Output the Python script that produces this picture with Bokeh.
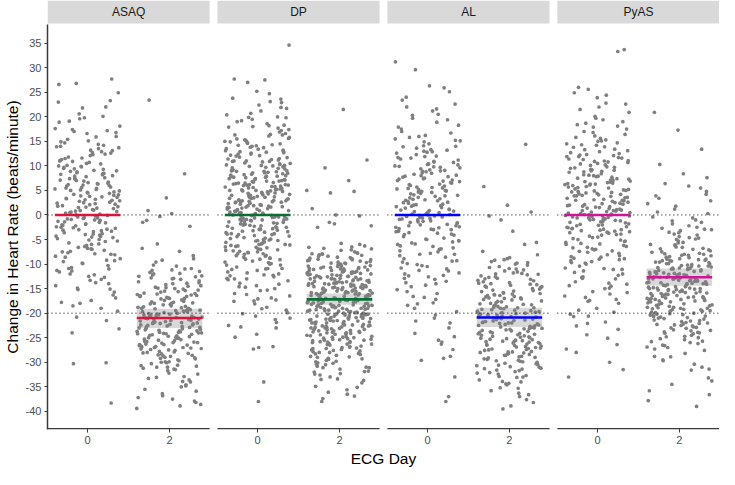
from bokeh.plotting import figure
from bokeh.layouts import column
from bokeh.models import Range1d, FixedTicker, CustomJSTickFormatter
from bokeh.core.properties import value
from bokeh.embed import file_html
from bokeh.resources import INLINE

# ---------------- data ----------------
drugs = ["ASAQ", "DP", "AL", "PyAS"]
days = ["0", "2"]
line_colors = ["#DC143C", "#0B6E34", "#0000FF", "#D1139A"]

asaq_d0 = [
    3.2, -7.4, 12.6, -1.8, 8.3, -13.1, 26.8, 0.7, -4.5, 5.9,
    17.2, -9.8, 2.4, -0.6, 10.9, -16.3, 6.6, -3.1, 14.2, 1.5,
    -23.2, 9.1, -5.7, 4.4, 19.8, -11.6, 0.2, 7.5, -2.7, 12.1,
    -8.6, 22.0, 3.9, -14.4, 5.2, -0.9, 27.7, -6.2, 11.3, -3.8,
    8.8, -19.6, 1.1, 15.4, -10.3, 6.1, -1.3, 13.5, -30.3, 4.7,
    -5.1, 9.7, -12.7, 2.8, 18.1, -7.9, 0.5, 23.3, -4.0, 7.1,
    10.4, -2.2, 16.0, -17.4, 3.4, -9.2, 5.6, 13.9, -0.3, -24.0,
    8.0, -6.8, 1.9, 20.1, -15.2, 4.1, -3.4, 11.8, -11.0, 6.9,
    26.6, -1.5, 9.4, -8.1, 2.1, 14.7, -5.4, 0.9, 17.6, -13.8,
    5.0, -38.3, 7.8, -2.5, 12.9, -20.8, 3.6, -7.0, 10.1, -0.1,
    21.8, -4.8, 6.3, -18.5, 1.3, 15.1, -9.5, 8.5, -3.0, 4.9,
    -12.2, 19.1, 2.6, -6.4, 11.0, -1.1, 7.3, -16.9, 13.2, 0.4,
    -30.1, 9.9, -4.3, 5.4, -10.7, 3.0, 16.6, -2.0, 8.2, -14.9,
    1.7, 12.3, -7.7, 6.7, -0.7, 23.0, -5.9, 4.2, -15.7, 10.7,
    -3.6, 7.6, 19.6, -8.9, 2.3, -12.0, 5.7, -1.9, 14.0, -19.0,
    0.0, 9.0, -6.0, 3.3, -2.9, 11.6, -11.3, 6.4, 17.4, -4.6,
    4.5, -2.1, 9.3, -6.6, 13.7, 1.0, -10.9, 6.0, -0.5, 18.9,
    -4.1, 7.9, 2.2, -13.3, 11.5, -1.6, 5.1, -8.4, 15.9, 0.6,
    -3.3, 10.5, -17.8, 3.7, 8.6, -5.3, 12.7, -0.8, 6.5, -9.9,
    1.8, 14.4, -2.6, 4.0, -12.5, 9.5, -7.2, 20.6, 2.9, -1.0,
    7.4, -15.1, 3.1, 11.1, -4.4, 0.8, 16.8, -6.9, 5.5, -21.5,
    9.8, -2.4, 1.4, -11.4, 13.1, 4.6, -7.5, 8.4, -0.4, 24.9,
    -3.9, 6.2, -14.0, 2.5, 10.0, -5.0, 17.0, -9.3, 3.8, -1.4,
    12.4, -18.0, 5.3, -0.2, 8.9, -8.0, 1.6, 14.9, -3.2, 7.0,
]
asaq_d2 = [
    -21.4, -14.8, -27.3, -18.9, -33.1, -23.6, -11.2, -25.8, -19.7, -36.4,
    -16.2, -29.5, -22.1, -8.3, -24.7, -31.2, -17.6, -20.3, -13.4, -27.9,
    23.4, -22.9, -15.5, -26.4, -38.9, -19.1, -12.6, -28.8, -21.0, -34.6,
    -17.1, -24.0, -10.4, -30.3, -20.6, -16.8, -26.9, -23.2, -5.9, -32.4,
    -14.0, -22.5, -28.2, -18.3, -37.2, -25.1, -12.0, -20.9, -29.9, -15.9,
    8.4, -23.9, -19.4, -27.6, -11.7, -34.0, -21.7, -16.5, -25.4, -9.6,
    -30.8, -18.0, -22.8, -13.9, -26.1, -39.4, -20.0, -24.4, -17.9, -31.7,
    -1.5, -15.1, -28.5, -21.2, -12.9, -25.0, -33.6, -19.9, -23.0, -7.4,
    -27.0, -16.0, -22.3, -35.5, -18.6, -29.2, -14.4, -24.9, -20.4, -10.9,
    3.5, -26.7, -17.3, -31.0, -22.0, -13.0, -28.0, -19.2, -36.8, -24.2,
    -15.6, -21.9, -8.9, -27.5, -18.7, -32.9, -23.5, -11.5, -25.6, -20.7,
    -2.3, -29.0, -16.6, -23.8, -14.7, -38.2, -21.5, -26.3, -19.5, -30.0,
    -12.4, -24.6, -17.7, -28.6, -22.6, -6.8, -33.9, -20.2, -15.3, -26.0,
    0.9, -19.0, -24.1, -13.6, -29.7, -21.3, -37.9, -17.0, -25.3, -11.0,
    -0.3, -23.3, -31.5, -18.1, -27.1, -14.2, -22.4, -35.0, -20.5, -16.4,
    0.3, -1.1, -26.5, -9.2, -23.7, -30.6, -12.2,
    -22.2, -16.9, -28.1, -19.6, -25.5, -13.8, -31.4, -20.1, -24.8, -17.4,
    -26.6, -11.9, -21.8, -29.3, -18.2, -23.4, -34.8, -15.7, -27.2, -20.9,
    -12.8, -24.3, -30.1, -19.0, -22.7, -16.1, -26.0, -37.5, -21.1, -14.5,
    -28.7, -18.8, -23.9, -10.2, -25.9, -32.2, -20.4, -17.0, -27.8, -22.9,
    -15.0, -24.5, -19.3, -29.9, -21.6, -13.1, -26.8, -35.9, -18.5, -23.1,
    -16.6, -28.3, -20.8, -25.1, -11.3, -22.4, -31.0, -19.7, -27.0, -14.9,
    -24.0, -17.8, -33.3, -21.3, -26.4, -12.5, -23.6, -18.0, -29.1, -20.2,
    -25.7, -15.4, -22.1, -38.6, -19.5, -27.4, -16.3, -24.2, -30.7, -21.9,
]
dp_d0 = [
    4.2, -3.5, 11.8, -9.1, 7.3, 0.6, 16.4, -14.7, 2.9, 21.2,
    -6.4, 8.8, -1.2, 13.5, -18.8, 5.1, 1.7, -11.3, 9.6, -2.8,
    27.0, 3.3, -7.9, 12.4, -0.4, 6.7, -22.5, 18.2, -4.6, 10.1,
    0.9, -13.0, 5.8, -2.1, 15.0, -8.4, 2.2, 23.6, -5.3, 8.1,
    -16.9, 11.0, -0.8, 4.6, -10.6, 7.9, 19.5, -3.9, 1.3, -20.1,
    13.2, -6.9, 9.2, -1.6, 5.5, 34.6, -12.2, 3.0, 16.9, -4.2,
    0.1, -8.8, 10.6, 6.2, -15.4, 2.5, -2.4, 20.7, -7.2, 12.8,
    -0.2, 7.0, -24.3, 4.0, 14.3, -11.8, 8.5, -5.7, 1.0, 17.7,
    -3.2, 11.4, -9.7, 6.0, -1.0, 22.4, -17.6, 3.7, 9.9, -6.1,
    27.5, -13.9, 5.3, 0.3, 14.9, -4.9, 7.6, -19.4, 2.0, 12.0,
    -2.6, 8.3, -10.2, 18.6, -0.6, 4.8, -7.5, 10.9, -26.8, 1.9,
    15.6, -5.0, 6.5, -14.1, 3.5, -1.4, 24.7, -8.0, 9.4, -3.0,
    0.8, -21.3, 13.8, 5.7, -11.0, 2.7, 17.2, -6.6, 7.8, -0.1,
    -16.2, 11.7, 4.4, -4.4, 20.0, -9.4, 1.5, 8.7, -2.0, 13.0,
    -38.0, 6.3, -12.6, 3.9, 15.8, -5.5, 0.4, 10.3, -18.1, 5.0,
    23.1, -1.9, 8.0, -7.0, 2.6, -23.0, 12.6, -3.6, 6.9, 19.2,
    -10.9, 1.2, 9.1, -0.5, 14.6, -13.4, 4.1, -6.3, 11.2, -27.3,
    2.3, 16.1, -8.6, 7.2, -2.9, 27.7, -15.0, 3.6, 10.5, -4.7,
    -0.9, 5.9, -20.6, 12.2, -9.9, 1.6, 21.7, -5.9, 8.9, -1.7,
    14.0, -12.9, 4.7, -3.3, 9.8, -17.1, 0.0, 6.6, -7.7, 17.4,
    -34.0, 3.1, 11.5, -2.3, 7.4, -10.0, 15.3, -6.0, 2.1, -24.9,
    5.2, -1.1, 13.1, -8.2, 0.5, 22.9, -14.4, 9.0, -4.0, 6.1,
    -19.9, 10.8, 1.1, -5.2, 18.0, -11.6, 4.3, -0.7, 12.7, -27.0,
    7.7, -3.8, 2.8, -16.5, 8.6, -7.4, 14.5, 0.2, -12.4, 4.9,
    -9.0, 19.8, -2.2, 6.4, -21.9, 3.4, 10.2, -6.7, 1.4, 16.3,
    3.8, -2.7, 10.0, -7.6, 6.1, 0.2, 14.2, -12.0, 1.9, 17.9,
    -5.1, 8.2, -0.3, 12.1, -16.0, 4.5, 2.4, -9.6, 7.7, -1.8,
    21.9, 5.0, -6.2, 11.3, -0.9, 9.0, -19.1, 15.5, -3.1, 6.8,
    1.2, -10.9, 4.9, -1.5, 13.4, -7.3, 3.0, 19.9, -4.3, 8.9,
    -14.6, 10.4, -0.6, 3.4, -8.8, 6.5, 16.6, -2.9, 0.7, -17.3,
    12.4, -5.6, 7.9, -1.2, 5.4, 25.2, -11.1, 2.7, 14.8, -3.4,
    0.4, -7.9, 9.5, 5.6, -13.2, 1.8, -2.0, 18.3, -6.0, 11.0,
    -0.4, 6.2, -21.0, 3.6, 12.9, -10.2, 7.4, -4.8, 1.6, 15.2,
    -2.5, 10.1, -8.3, 5.2, -0.1, 20.4, -15.3, 2.9, 8.4, -5.2,
    23.8, -12.3, 4.4, 0.9, 13.7, -4.0, 6.9, -17.5, 1.5, 10.9,
    -1.4, 7.1, -9.0, 16.3, -0.2, 4.0, -6.5, 9.7, -22.8, 2.6,
    14.1, -3.8, 5.8, -13.0, 3.2, -1.0, 19.0, -7.1, 8.6, -2.3,
]
dp_d2 = [
    -16.8, -9.4, -24.3, -12.1, -19.7, -30.5, -14.6, -7.2, -21.8, -27.1,
    -11.3, -18.4, -35.6, -15.9, -22.7, -8.6, -26.0, -13.4, -20.2, -31.8,
    21.5, -17.5, -10.7, -23.6, -14.0, -28.9, -19.1, -6.3, -25.4, -12.8,
    -16.1, -33.0, -21.1, -9.9, -18.8, -26.7, -13.9, -23.0, -11.7, -29.6,
    11.2, -15.2, -20.6, -7.8, -24.9, -17.9, -12.5, -37.4, -22.3, -10.1,
    -27.9, -14.3, -19.4, -31.1, -16.6, -8.1, -23.9, -13.1, -21.4, -25.8,
    9.6, -18.1, -11.0, -28.3, -15.6, -20.9, -6.9, -24.0, -17.2, -34.2,
    -12.3, -22.0, -9.1, -26.4, -19.0, -14.8, -30.1, -16.3, -21.6, -10.4,
    7.0, -25.1, -18.6, -13.6, -23.3, -7.5, -28.0, -15.4, -20.4, -32.6,
    -11.9, -17.0, -24.6, -14.1, -21.2, -9.7, -27.4, -16.0, -19.8, -12.9,
    5.0, -36.5, -22.6, -15.0, -10.5, -25.6, -18.3, -29.2, -13.3, -20.0,
    -8.4, -23.7, -16.9, -11.4, -26.9, -19.3, -14.5, -31.4, -21.9, -17.7,
    4.5, -12.0, -24.2, -10.8, -20.7, -28.6, -15.8, -6.5, -22.9, -18.0,
    -13.8, -30.8, -17.4, -25.3, -9.3, -21.0, -14.9, -33.7, -19.6, -11.1,
    4.8, -26.2, -16.4, -22.4, -12.6, -27.7, -18.9, -8.8, -23.5, -15.3,
    -20.3, -10.0, -29.9, -17.1, -13.0, -24.7, -19.2, -38.0, -14.2, -21.5,
    1.3, -11.6, -25.9, -16.2, -22.1, -9.0, -28.2, -18.5, -12.2, -20.8,
    -15.7, -31.9, -23.1, -13.5, -19.9, -26.5, -10.3, -17.3, -24.4, -14.7,
    0.0, -21.3, -7.1, -27.2, -16.7, -22.8, -12.4, -35.1, -18.7, -11.8,
    -25.2, -15.1, -20.5, -9.6, -23.8, -17.8, -29.4, -13.7, -21.7, -16.5,
    -0.2, -1.8, -10.9, -26.8, -19.5, -14.4, -32.3, -22.2, -12.7, -18.2,
    -2.2, -24.8, -16.0, -8.2, -20.1, -27.5, -15.5, -23.4, -11.2, -19.0,
    -2.5, -13.2, -30.2, -17.6, -21.2, -10.6, -25.5, -18.4, -14.6, -36.9,
    -1.5, -22.5, -9.8, -16.4, -28.4, -20.3, -13.0, -24.1, -17.0, -31.0,
    -5.8, -19.3, -11.5, -23.2, -15.9, -26.3, -7.9, -21.0, -33.4, -14.0,
    -15.3, -8.4, -22.6, -11.5, -18.3, -28.1, -13.9, -6.6, -20.4, -25.5,
    -10.6, -17.6, -32.4, -14.9, -21.5, -9.1, -24.2, -12.8, -19.0, -29.8,
    -16.4, -11.9, -22.0, -13.4, -27.0, -18.6, -7.7, -23.9, -12.0, -15.8,
    -31.1, -20.0, -10.0, -17.9, -25.0, -14.1, -21.8, -11.3, -28.0, -6.0,
    -14.7, -19.4, -8.7, -23.0, -16.6, -12.3, -34.9, -20.9, -9.8, -26.3,
    -13.6, -18.0, -29.3, -15.5, -7.9, -22.4, -12.6, -20.2, -24.9, -16.2,
    -10.9, -27.6, -14.3, -19.7, -6.8, -23.3, -17.2, -32.0, -11.7, -21.2,
    -9.5, -15.9, -25.8, -13.0, -18.8, -28.8, -14.5, -22.7, -16.8, -10.4,
    -30.4, -19.9, -12.2, -24.5, -17.4, -8.0, -21.0, -15.0, -27.2, -13.2,
    -36.1, -18.5, -11.0, -23.6, -16.0, -20.6, -9.2, -26.0, -14.0, -19.2,
    -12.9, -22.9, -17.0, -10.7, -25.3, -15.6, -33.5, -20.3, -13.7, -18.2,
    -8.9, -24.0, -16.5, -11.6, -29.0, -21.6, -14.8, -19.6, -12.5, -17.7,
]
al_d0 = [
    3.6, -5.2, 9.8, -12.4, 1.2, 14.9, -2.8, 6.3, -19.0, 22.6,
    -0.7, 7.9, -8.6, 4.4, 31.2, -14.0, 11.6, -3.9, 0.3, 17.5,
    -25.9, 5.7, -1.6, 12.9, -9.9, 2.6, 8.9, -6.0, 20.5, -16.6,
    0.8, 10.4, -4.4, 25.9, -11.3, 6.8, -0.2, 15.8, -22.0, 3.1,
    -7.3, 9.0, 29.6, -2.2, 13.3, -13.8, 4.9, -29.6, 1.7, 18.9,
    -5.7, 7.1, -10.5, 23.4, 2.2, -1.0, 11.2, -17.9, 5.4, -37.0,
    14.1, -3.3, 0.5, 8.3, -8.0, 26.3, -12.9, 3.9, -0.5, 10.0,
    -20.4, 6.0, 16.7, -4.9, 1.0, -26.3, 12.3, -9.3, 4.6, 22.0,
    -1.9, 8.6, -15.2, 2.9, 19.7, -6.7, 0.0, 13.9, -29.2, 5.2,
    -11.8, 10.8, -3.6, 25.1, 7.5, -0.9, 3.3, -24.1, 15.2, -7.8,
    1.4, -38.0, 9.4, -2.5, 12.0, -14.6, 6.5, -5.0, 17.0, -0.4,
    -10.1, 4.0, 21.2, -18.4, 7.8, -1.3, 11.7, -25.5, 2.0, -4.1,
    14.5, -8.9, 5.9, -0.1, 9.6, -13.1, 3.5, -28.8, 16.2, -6.3,
    1.9, -21.6, 8.1, -2.9, 24.0, -11.0, 4.8, 12.6, -16.0, 0.2,
    -5.5, 10.3, -9.6, 6.9, -1.4, 18.3, -3.0, 2.4, -23.0, 13.0,
    7.3, -7.0, 0.7, -33.0, 9.2, -12.0, 5.0, -2.0, 15.5, -17.2,
    4.3, -3.0, 8.8, -10.8, 1.5, 13.6, -1.7, 5.6, -15.6, 19.4,
    -0.6, 7.0, -7.5, 3.2, 10.7, -12.6, 2.5, -4.7, 16.0, -2.4,
    -21.0, 6.2, 0.1, 11.9, -8.3, 9.7, -5.9, 14.0, -1.2, 3.0,
    -13.5, 8.0, -3.4, 21.6, 1.8, -9.4, 12.8, -0.8, 5.5, -18.1,
    10.2, -6.4, 2.8, -11.4, 7.4, 17.9, -2.6, 4.1, -24.8, 0.9,
    -4.0, 9.1, -8.0, 15.1, 3.8, -1.5, 6.6, -14.3, 11.4, -6.9,
    2.1, -19.7, 8.5, -0.3, 13.2, -10.3, 5.3, -3.7, 20.3, -27.4,
    0.6, 7.7, -12.3, 4.7, -5.3, 10.9, -2.2, 1.1, -16.8, 9.9,
]
al_d2 = [
    -21.5, -12.7, -28.4, -17.0, -33.6, -24.1, -9.2, -19.8, -30.9, -14.5,
    14.4, -22.8, -26.7, -11.0, -35.8, -18.3, -25.2, -15.6, -31.4, -20.4,
    -8.1, -27.9, -16.4, -23.7, -39.5, -13.3, -29.6, -21.0, -18.9, -34.3,
    5.8, -24.6, -10.5, -26.2, -19.4, -32.1, -14.1, -22.3, -28.0, -16.9,
    -12.0, -30.3, -20.7, -25.8, -37.6, -17.7, -23.1, -9.8, -27.3, -15.0,
    2.0, -21.9, -33.0, -18.6, -26.0, -11.8, -29.1, -24.8, -19.1, -13.9,
    -31.7, -16.2, -22.6, -8.7, -27.6, -20.0, -35.2, -14.8, -25.5, -18.0,
    0.6, -23.4, -12.4, -28.8, -21.3, -30.0, -17.3, -26.5, -10.2, -33.9,
    -19.6, -24.4, -15.3, -38.2, -22.0, -13.6, -28.1, -20.9, -31.0, -16.6,
    -0.2, -25.0, -11.4, -23.9, -29.8, -18.4, -27.0, -14.3, -21.7, -32.7,
    -1.0, -17.5, -26.9, -9.5, -22.9, -34.6, -19.2, -25.6, -12.9, -30.5,
    -3.3, -20.6, -27.2, -15.8, -24.2, -36.3, -18.8, -23.0, -10.9, -29.3,
    -6.0, -22.1, -16.0, -31.9, -25.3, -13.1, -28.6, -20.2, -34.0, -17.9,
    -5.6, -23.6, -14.7, -26.3, -19.9, -30.7, -11.6, -24.0, -21.2, -28.3,
    -7.4, -18.2, -32.4, -22.4, -15.5, -27.5, -25.9, -9.1, -20.5, -37.0,
    -16.3, -29.0, -23.3, -13.0, -26.8, -19.0, -31.2,
    -20.1, -14.0, -27.8, -18.7, -24.5, -11.9, -31.6, -22.2, -16.1, -29.4,
    -9.7, -25.7, -19.8, -35.3, -21.6, -13.4, -28.2, -17.2, -23.2, -32.9,
    -15.1, -26.6, -10.7, -22.7, -30.2, -18.1, -24.9, -12.6, -20.8, -38.9,
    -16.7, -27.4, -21.1, -14.6, -33.1, -19.3, -25.4, -8.9, -23.5, -29.9,
    -17.6, -12.1, -26.1, -20.3, -36.6, -15.9, -22.5, -28.9, -18.5, -24.3,
    -13.8, -31.3, -21.4, -16.4, -27.1, -10.0, -23.8, -19.5, -34.4, -25.1,
    -17.1, -29.7, -14.2, -22.0, -26.4, -12.2, -20.6, -32.2, -18.9, -24.7,
    -15.4, -27.9, -21.8, -11.2, -30.6, -19.7, -25.8, -16.9, -23.1, -28.6,
]
pyas_d0 = [
    2.8, -6.6, 10.7, -1.3, 5.6, -12.3, 17.9, 0.4, -3.7, 8.2,
    33.7, -9.0, 3.9, 13.4, -17.4, 6.9, -0.8, 21.5, -5.1, 1.6,
    9.5, -14.5, 4.5, -2.4, 15.1, -22.6, 7.4, -0.3, 11.9, -8.1,
    0.9, 19.0, -4.5, 6.0, -11.1, 25.6, -1.8, 3.2, -19.4, 12.5,
    -7.1, 8.7, -30.0, 2.1, 16.4, -3.1, 5.3, -13.0, 10.1, -0.1,
    22.8, -5.8, 1.0, 14.2, -9.7, 7.7, -24.4, 3.6, -2.0, 18.4,
    33.3, -15.6, 6.4, -0.5, 11.3, -6.2, 4.1, -20.7, 9.1, 0.0,
    -3.4, 13.9, -10.4, 2.4, 20.1, -1.5, 7.1, -16.8, 5.0, -8.6,
    15.8, -4.0, 0.6, -27.3, 9.8, -12.7, 3.0, 23.9, -2.7, 6.5,
    -7.6, 11.1, -0.9, 4.8, -18.0, 8.0, -33.0, 1.3, 17.0, -5.4,
    12.9, -11.7, 2.5, -1.0, 6.2, -21.8, 10.4, -3.9, 19.7, -9.3,
    0.2, 5.8, -14.1, 8.9, -2.2, 14.7, -6.9, 3.4, -25.1, 1.8,
    -31.5, 7.9, -4.8, 12.1, -0.6, 20.9, -10.9, 4.3, -8.3, 10.9,
    2.0, -16.1, 6.8, -1.6, 15.6, -13.6, 0.8, 9.3, -5.6, 24.4,
    -3.2, 11.6, -19.0, 4.7, -7.3, 1.4, 13.1, -0.2, 7.5, -23.3,
    16.8, -2.6, 5.5, -11.4, 2.9, 22.0, -8.8, 9.7, -4.3, 0.5,
    -15.0, 12.2, -1.2, 6.3, -20.2, 3.8, 18.7, -6.4, 8.4, -28.0,
    1.1, -9.5, 14.5, -3.5, 4.0, -12.0, 10.5, -0.4, 7.0, -17.6,
    5.2, -2.9, 26.0, -7.8, 3.1, 11.4, -14.9, 0.1,
    3.5, -5.9, 9.6, -1.1, 6.3, -10.8, 15.3, 0.3, -3.0, 7.8,
    -8.5, 4.6, 12.3, -15.8, 2.3, -0.6, 18.1, -4.6, 1.9, 10.8,
    -12.6, 5.1, -2.1, 13.8, -19.8, 8.1, -0.2, 11.0, -7.4, 1.2,
    16.1, -3.6, 6.7, -9.8, 22.6, -1.4, 3.0, -17.2, 9.0, -6.0,
    0.7, 14.3, -11.1, 4.4, -2.8, 7.2, -22.1, 2.6, 19.4, -5.0,
    11.7, -0.9, 5.7, -13.9, 8.8, -8.9, 1.5, 24.9, -3.3, 6.1,
    -16.5, 10.2, -1.9, 4.2, -7.0, 12.7, 0.0, -10.0, 17.5, -4.1,
    3.9, -26.4, 9.2, -2.5, 6.6, -12.9, 2.2, 15.0, -6.7, 0.9,
    -20.6, 7.3, -0.7, 11.9, -9.1, 4.9, -14.4, 1.7, 13.3, -5.3,
]
pyas_d2 = [
    -12.4, -5.6, -18.9, -9.1, -23.4, -14.7, -2.2, -16.3, -27.6, -10.8,
    20.9, -13.5, -20.1, -7.3, -15.8, -25.2, -11.4, 1.8, -17.7, -31.6,
    -8.6, -14.1, -21.7, -12.0, -4.1, -19.3, -26.9, -10.2, -16.6, -6.8,
    17.3, -13.0, -22.8, -15.2, -9.7, -18.1, 3.4, -24.0, -11.9, -35.8,
    -14.9, -7.9, -20.6, -12.8, -17.2, -1.0, -28.9, -10.6, -23.1, -16.0,
    13.4, -5.0, -19.8, -13.9, -9.0, -22.0, -15.5, 0.6, -26.2, -11.0,
    -17.9, -8.2, -14.3, -21.2, -3.6, -12.6, -30.4, -18.6, -10.0, -24.7,
    10.3, -15.0, -6.2, -20.4, -13.2, -16.9, 4.2, -22.5, -11.6, -39.0,
    -9.4, -18.3, -14.0, -2.7, -25.7, -12.2, -19.1, -7.0, -16.2, -33.2,
    8.4, -21.0, -10.4, -15.7, -13.7, -4.6, -23.8, -17.4, -8.9, -27.3,
    -12.9, -19.6, 2.9, -14.5, -20.8, -11.2, -6.5, -17.0, -24.5, -9.9,
    7.6, -15.3, -22.3, -13.3, -1.8, -18.8, -10.9, -29.5, -16.8, -5.3,
    -14.8, -20.0, -12.1, -36.6, -8.0, -17.5, -21.5, 1.2, -11.7, -26.0,
    6.4, -13.6, -19.0, -9.6, -15.9, -23.0, -3.0, -12.3, -18.0, -31.0,
    -16.4, -7.6, -22.6, -14.2, 0.3, -20.3, -10.7, -25.0, -13.1, -37.8,
    5.9, -11.8, -17.1, -4.4, -21.4, -15.1, -8.5, -19.5, -28.2, -12.7,
    5.5, -14.6, -6.0, -23.6, -16.1, 4.8, -10.3, -18.4, -2.5, -34.5,
    -13.8, -20.9, -9.3, -16.7, -12.5, -0.4, -24.2, -15.4, -7.1, -19.2,
    -11.3, -22.1, -3.9, -17.3, -13.4, -26.6, -9.2, -15.6,
    -11.6, -4.9, -17.7, -8.3, -21.9, -13.8, -1.5, -15.2, -25.8, -10.1,
    -12.7, -19.0, -6.6, -14.9, -23.9, -10.8, 2.3, -16.8, -29.7, -8.0,
    -13.3, -20.7, -11.5, -3.5, -18.5, -25.4, -9.6, -15.6, -6.1, -12.1,
    -21.6, -14.4, -9.0, -17.2, 3.9, -22.9, -11.0, -33.8, -14.1, -7.5,
    -19.6, -12.4, -16.4, -0.6, -27.0, -10.4, -22.2, -15.3, -4.7, -18.8,
    -13.0, -8.7, -21.1, -2.9, -12.0, -28.8, -17.5, -9.3, -23.5, -14.6,
    -6.9, -19.3, -12.8, -16.0, -10.5, -24.8, -15.9, -8.2, -20.2, -13.5,
    -1.2, -17.0, -11.1, -26.5, -14.0, -5.7, -20.5, -16.7, -9.9, -31.4,
    -12.2, -18.2, -7.8, -22.4, -15.0, -10.9, -24.1, -13.9, -3.2, -19.9,
]

mean_day0 = [0.0, 0.0, 0.0, 0.0]
mean_day2 = [-21.0, -17.2, -20.9, -12.7]
ci_low_day2 = [-23.0, -18.3, -22.8, -14.4]
ci_high_day2 = [-19.1, -16.0, -18.9, -10.9]
ref_lines = [0, -20]
y_ticks = [35, 30, 25, 20, 15, 10, 5, 0, -5, -10, -15, -20, -25, -30, -35, -40]

groups = [(asaq_d0, asaq_d2), (dp_d0, dp_d2), (al_d0, al_d2), (pyas_d0, pyas_d2)]

# ---------------- layout ----------------
P_LO, P_HI = 0.51, 2.49      # panel extent in local x units (days at 1 and 2)
STEP = 2.075                 # panel-to-panel offset (panel + gap)
JIT = 0.4                    # jitter half-width
Y_LO, Y_HI = -43.7, 38.8     # panel y extent
PHI = 0.6180339887
LB = 45                      # left border shared by strip row and panel row
W = 719
STRIP_H = 24
MAIN_H = 469 - STRIP_H
FONT = "Liberation Sans"

xr = Range1d(P_LO, 3 * STEP + P_HI)
sl = [i * STEP + P_LO for i in range(4)]
sr = [i * STEP + P_HI for i in range(4)]

# ---- strip row ----
s = figure(width=W, height=STRIP_H, output_backend="svg", toolbar_location=None,
           x_range=xr, y_range=Range1d(0, 1), x_axis_location=None, y_axis_location=None,
           min_border_left=LB, min_border_right=0, min_border_top=0, min_border_bottom=0)
s.outline_line_color = None
s.xgrid.visible = False
s.ygrid.visible = False
s.quad(left=sl, right=sr, bottom=[0.045] * 4, top=[1.0] * 4,
       fill_color="#D9D9D9", line_color=None)
s.text(x=[i * STEP + 1.5 for i in range(4)], y=[0.52] * 4, text=drugs,
       text_align="center", text_baseline="middle", text_color="#1A1A1A",
       text_font=value(FONT), text_font_size="12px")

# ---- panel row ----
p = figure(width=W, height=MAIN_H, output_backend="svg", toolbar_location=None,
           x_range=xr, y_range=Range1d(Y_LO, Y_HI),
           min_border_top=0, min_border_right=0, min_border_left=LB,
           background_fill_color="white", border_fill_color="white")
p.outline_line_color = None
p.xgrid.visible = False
p.ygrid.visible = False

# ribbons (confidence bands)
rl = [i * STEP + 2 - JIT for i in range(4)]
rr = [i * STEP + 2 + JIT for i in range(4)]
p.quad(left=rl, right=rr, bottom=ci_low_day2, top=ci_high_day2, fill_color="#C8C8C8",
       fill_alpha=0.7, line_color=None)

# jittered points
px, py = [], []
for i, (d0, d2) in enumerate(groups):
    for d, vals in enumerate((d0, d2)):
        for k, v in enumerate(vals):
            j = (((k + 1) * PHI + 0.37 * i + 0.21 * d) % 1.0 - 0.5) * 2 * JIT
            px.append(i * STEP + (d + 1) + j)
            py.append(v)
p.scatter(x=px, y=py, size=3.7, fill_color="#7F7F7F", line_color=None)

# dotted reference lines
hx0, hx1, hy = [], [], []
for i in range(4):
    for r in ref_lines:
        hx0.append(i * STEP + P_LO)
        hx1.append(i * STEP + P_HI)
        hy.append(r)
p.segment(x0=hx0, y0=hy, x1=hx1, y1=hy, line_color="black", line_width=1,
          line_dash="1 3")

# mean lines
mx0, mx1, my, mc = [], [], [], []
for i in range(4):
    for d, m in enumerate((mean_day0[i], mean_day2[i])):
        mx0.append(i * STEP + (d + 1) - JIT)
        mx1.append(i * STEP + (d + 1) + JIT)
        my.append(m)
        mc.append(line_colors[i])
p.segment(x0=mx0, y0=my, x1=mx1, y1=my, line_color=mc, line_width=2.6)

# bottom axis lines per panel
ay = Y_LO + 0.15
p.segment(x0=sl, y0=[ay] * 4, x1=sr, y1=[ay] * 4, line_color="#3A3A3A", line_width=1.5)

# axes
xt = []
for i in range(4):
    xt += [i * STEP + 1, i * STEP + 2]
p.xaxis.ticker = FixedTicker(ticks=xt)
p.xaxis.formatter = CustomJSTickFormatter(args=dict(labels=days),
                                          code="return labels[index % 2];")
p.xaxis.axis_line_color = None
p.xaxis.major_tick_line_color = "#3A3A3A"
p.xaxis.major_tick_in = 1
p.xaxis.major_tick_out = 3
p.xaxis.minor_tick_line_color = None
p.xaxis.major_label_text_color = "#4D4D4D"
p.xaxis.major_label_text_font = FONT
p.xaxis.major_label_text_font_size = "11px"
p.xaxis.major_label_standoff = 3
p.xaxis.axis_label = "ECG Day"
p.xaxis.axis_label_text_font = FONT
p.xaxis.axis_label_text_font_style = "normal"
p.xaxis.axis_label_text_font_size = "15.5px"
p.xaxis.axis_label_text_color = "black"
p.xaxis.axis_label_standoff = 3

p.yaxis.ticker = FixedTicker(ticks=y_ticks)
p.yaxis.formatter = CustomJSTickFormatter(code="return tick.toFixed(0);")
p.yaxis.axis_line_color = "#3A3A3A"
p.yaxis.axis_line_width = 1.5
p.yaxis.major_tick_line_color = "#3A3A3A"
p.yaxis.major_tick_in = 0
p.yaxis.major_tick_out = 3
p.yaxis.minor_tick_line_color = None
p.yaxis.major_label_text_color = "#4D4D4D"
p.yaxis.major_label_text_font = FONT
p.yaxis.major_label_text_font_size = "11px"
p.yaxis.major_label_standoff = 3
p.yaxis.axis_label = "Change in Heart Rate (beats/minute)"
p.yaxis.axis_label_text_font = FONT
p.yaxis.axis_label_text_font_style = "normal"
p.yaxis.axis_label_text_font_size = "15.5px"
p.yaxis.axis_label_text_color = "black"
p.yaxis.axis_label_standoff = 2

layout = column(s, p, spacing=0)
open("out.html", "w").write(file_html(layout, INLINE))
